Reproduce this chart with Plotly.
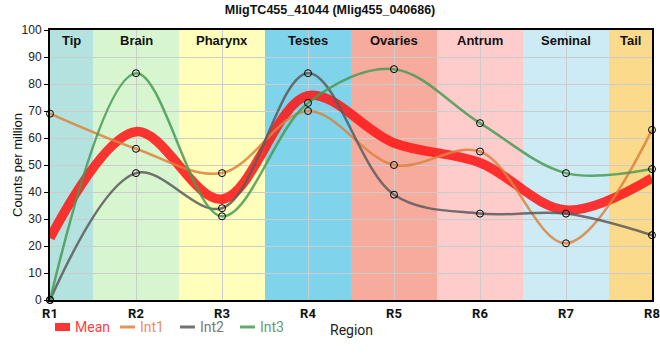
import plotly.graph_objects as go

regions_x = ["R1", "R2", "R3", "R4", "R5", "R6", "R7", "R8"]
int1 = [69, 56, 47, 70, 50, 55, 21, 63]
int2 = [0, 47, 34, 84, 39, 32, 32, 24]
int3 = [0, 84, 31, 73, 85.5, 65.5, 47, 48.5]
mean = [round((a + b + c) / 3, 2) for a, b, c in zip(int1, int2, int3)]

tissue_names = ["Tip", "Brain", "Pharynx", "Testes", "Ovaries", "Antrum", "Seminal", "Tail"]
tissue_colors = ["#b4e2df", "#d7f5cf", "#ffffbb", "#7fd4ec", "#f6ab9d", "#ffcccc", "#cdebf4", "#fcda8b"]

xs = list(range(len(regions_x)))

W, H = 660, 360
ML, MR, MT, MB = 50, 8, 30, 60
PW, PH = W - ML - MR, H - MT - MB


def px_x(p):
    return (p - ML) / PW


def px_y(p):
    return (H - MB - p) / PH


fig = go.Figure()

# background region bands
for i, (nm, col) in enumerate(zip(tissue_names, tissue_colors)):
    x0 = max(i - 0.5, 0)
    x1 = min(i + 0.5, len(xs) - 1)
    fig.add_shape(type="rect", xref="x", yref="paper", x0=x0, x1=x1, y0=0, y1=1,
                  fillcolor=col, line_width=0, layer="below")
    fig.add_annotation(x=(x0 + x1) / 2, y=1, xref="x", yref="paper", yanchor="top",
                       text="<b>%s</b>" % nm, showarrow=False, yshift=-1,
                       font=dict(size=13, color="#111", family="Liberation Sans, Arial"))

series = [
    ("Mean", mean, "rgba(255,25,25,0.88)", 9.5, "#ff4040", False),
    ("Int1", int1, "rgba(220,130,60,0.85)", 2.5, "#e89060", True),
    ("Int2", int2, "rgba(90,90,90,0.85)", 2.5, "#787878", True),
    ("Int3", int3, "rgba(70,155,85,0.85)", 2.5, "#5e9e72", True),
]
for name, ys, col, w, tcol, mk in series:
    fig.add_trace(go.Scatter(x=xs, y=ys, mode="lines", name=name, showlegend=False,
                             line=dict(color=col, width=w, shape="spline", smoothing=1.0),
                             cliponaxis=True, hoverinfo="skip"))
for name, ys, col, w, tcol, mk in series:
    if mk:
        fig.add_trace(go.Scatter(x=xs, y=ys, mode="markers", showlegend=False,
                                 marker=dict(symbol="circle", size=7, color="rgba(0,0,0,0)",
                                             line=dict(color="black", width=1)),
                                 cliponaxis=False, hoverinfo="skip"))

# custom legend (symbols + coloured labels)
leg_x = [55, 120, 180, 240]
leg_y = 327
for (name, ys, col, w, tcol, mk), lx in zip(series, leg_x):
    fig.add_shape(type="line", xref="paper", yref="paper",
                  x0=px_x(lx), x1=px_x(lx + 15), y0=px_y(leg_y), y1=px_y(leg_y),
                  line=dict(color=col, width=8 if name == "Mean" else 3))
    fig.add_annotation(xref="paper", yref="paper", x=px_x(lx + 18), y=px_y(leg_y),
                       xanchor="left", yanchor="middle", text=name, showarrow=False,
                       font=dict(size=14, color=tcol, family="Roboto, Liberation Sans"))

# axis titles placed as annotations
fig.add_annotation(xref="paper", yref="paper", x=px_x(351), y=px_y(330), xanchor="center",
                   yanchor="middle", text="Region", showarrow=False,
                   font=dict(size=14, color="#222", family="Roboto, Liberation Sans"))
fig.add_annotation(xref="paper", yref="paper", x=px_x(17), y=0.5, xanchor="center",
                   yanchor="middle", text="Counts per million", textangle=-90, showarrow=False,
                   font=dict(size=13, color="#111", family="Liberation Sans, Arial"))

fig.update_layout(
    width=W, height=H,
    margin=dict(l=ML, r=MR, t=MT, b=MB, autoexpand=False),
    paper_bgcolor="white", plot_bgcolor="white",
    font=dict(family="Liberation Sans, Arial", size=11, color="#222"),
    title=dict(text="<b>MligTC455_41044 (Mlig455_040686)</b>", x=0.5, xanchor="center",
               y=0.972, yanchor="middle", font=dict(size=12.5, color="#111")),
    showlegend=False,
    xaxis=dict(tickmode="array", tickvals=xs, ticktext=["<b>%s</b>" % r for r in regions_x],
               range=[0, 7], showgrid=True, gridcolor="#cccccc", gridwidth=1,
               showline=True, linecolor="black", linewidth=2, mirror=True,
               ticks="", tickfont=dict(size=13, color="#111", family="Roboto, Liberation Sans"),
               automargin=False, zeroline=False, layer="above traces"),
    yaxis=dict(range=[0, 100], dtick=10, showgrid=True, gridcolor="#cccccc", gridwidth=1,
               showline=True, linecolor="black", linewidth=2, mirror=True,
               ticks="outside", ticklen=4, tickcolor="black", automargin=False,
               tickfont=dict(size=12, color="#222"),
               zeroline=False, layer="above traces"),
)

fig.write_html("out.html", config={"displayModeBar": False},
               post_script="document.body.style.margin='0px';")
